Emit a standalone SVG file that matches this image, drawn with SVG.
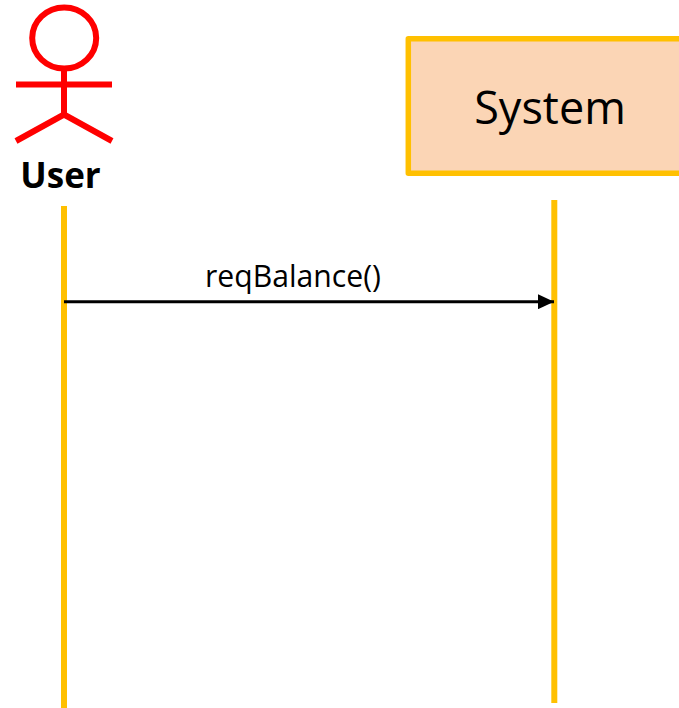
<svg xmlns="http://www.w3.org/2000/svg" width="679" height="708" viewBox="0 0 679 708">
<style>
.life{stroke:#FFC000;stroke-width:6;fill:none}
.actor{stroke:#FF0000;stroke-width:6;fill:none}
text{font-family:"Open Sans","Noto Sans","Liberation Sans",sans-serif;fill:#000}
</style>
<defs><marker id="arrow" markerUnits="userSpaceOnUse" markerWidth="16" markerHeight="15" refX="16" refY="7.500" orient="auto"><path d="M0 0L16 7.500L0 15Z" fill="#000"/></marker></defs>
<rect width="679" height="708" fill="#fff"/>
<g id="user">
<ellipse class="actor" cx="64.200" cy="38" rx="32" ry="30.500" stroke-width="5.500"/>
<path class="actor" d="M64 69V114.500M16 84.500H112M16 141L64 114.500L112 141"/>
<text x="60.500" y="188" font-size="35" font-weight="700" text-anchor="middle">User</text>
<path class="life" d="M64 206V708"/>
</g>
<g id="system">
<rect x="408.300" y="38.700" width="280" height="134.600" fill="#FBD5B5" stroke="#FFC000" stroke-width="5.500" stroke-linejoin="round"/>
<text x="550" y="124" font-size="45" text-anchor="middle">System</text>
<path class="life" d="M554.300 200V703"/>
</g>
<g id="connectors">
<path d="M64 301.700H554" stroke="#000" stroke-width="3" fill="none" marker-end="url(#arrow)"/>
<text x="293" y="287" font-size="31" text-anchor="middle" textLength="176" lengthAdjust="spacingAndGlyphs">reqBalance()</text>
</g>
</svg>
